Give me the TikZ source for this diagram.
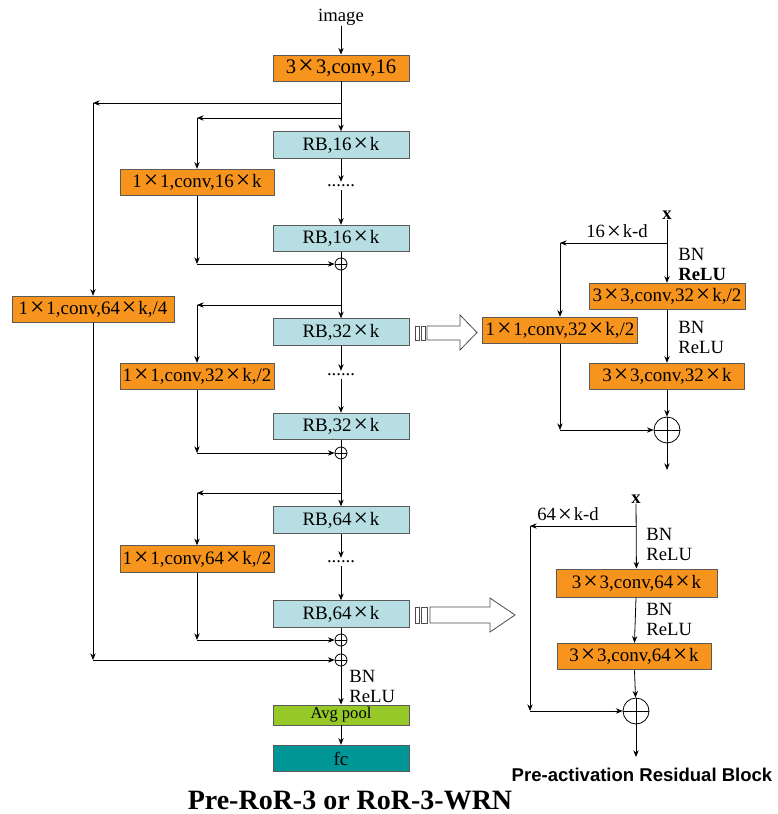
\documentclass[tikz,border=0pt]{standalone}
\usepackage{fontspec}
\setmainfont{Liberation Serif}
\newfontfamily\headsans{Liberation Sans}
\usetikzlibrary{arrows.meta}
\definecolor{convorange}{RGB}{247,148,30}
\definecolor{rbblue}{RGB}{183,222,226}
\definecolor{poolgreen}{RGB}{150,200,40}
\definecolor{fcteal}{RGB}{0,150,150}
\definecolor{boxline}{RGB}{90,90,90}
\newcommand\tms{\kern0.1em\raisebox{-0.06em}{\scalebox{1.35}{×}}\kern0.1em}
\tikzset{
  box/.style={draw=boxline, line width=0.6pt, minimum height=20pt, inner sep=0pt,
    font=\fontsize{14.25}{16}\selectfont},
  conv/.style={box, fill=convorange},
  rb/.style={box, fill=rbblue, minimum width=102pt},
  sumnode/.style={draw, circle, line width=0.6pt, inner sep=0pt, minimum size=#1,
    path picture={\draw (path picture bounding box.north) -- (path picture bounding box.south)
      (path picture bounding box.west) -- (path picture bounding box.east);}},
  lbl/.style={font=\fontsize{14}{15}\selectfont, align=left, inner sep=0pt},
  xlbl/.style={font=\fontsize{14}{15}\selectfont\bfseries, inner sep=0pt},
  dotsnode/.style={font=\fontsize{14}{15}\selectfont, inner sep=2pt},
  arr/.style={-{Stealth[length=5pt,width=4pt]}},
  hollow/.style={draw=black!70, line width=0.6pt, fill=white},
}
\begin{document}
\begin{tikzpicture}[x=0.75pt, y=-0.75pt, line width=0.6pt]
  \useasboundingbox (0,0) rectangle (778,814);
  % main column
  \node[lbl] (img) at (341,17) {image};
  \node[conv, minimum width=102pt, minimum height=19.5pt,
    font=\fontsize{15.5}{17}\selectfont] (conv0) at (341,68) {3\tms3,conv,16};
  \coordinate (j0) at (341,103);
  \coordinate (j1) at (341,118);
  \node[rb] (rb1a) at (341,145) {RB,16\tms k};
  \node[dotsnode] (dots1) at (341,186) {......};
  \node[rb] (rb1b) at (341,238.5) {RB,16\tms k};
  \node[sumnode=9pt] (sum1) at (341,264) {};
  \coordinate (j2) at (341,305);
  \node[rb] (rb2a) at (341,332) {RB,32\tms k};
  \node[dotsnode] (dots2) at (341,375) {......};
  \node[rb] (rb2b) at (341,426.5) {RB,32\tms k};
  \node[sumnode=9pt] (sum2) at (341,453) {};
  \coordinate (j3) at (341,493);
  \node[rb] (rb3a) at (341,520) {RB,64\tms k};
  \node[dotsnode] (dots3) at (341,562) {......};
  \node[rb] (rb3b) at (341,614) {RB,64\tms k};
  \node[sumnode=9pt] (sum3) at (341,640) {};
  \node[sumnode=9pt] (sum4) at (341,660) {};
  \node[lbl, anchor=west] (bnf) at (349,686) {BN\\ReLU};
  \node[box, fill=poolgreen, minimum width=102pt, minimum height=15pt,
    font=\fontsize{12.4}{14}\selectfont] (pool) at (341,715) {Avg pool};
  \node[box, fill=fcteal, minimum width=102pt] (fc) at (341,758.5) {fc};
  % projection shortcuts
  \node[conv, minimum width=121.5pt] (proj0) at (93,309.5) {1\tms1,conv,64\tms k,/4};
  \node[conv, minimum width=115.5pt] (proj1) at (197,182.5) {1\tms1,conv,16\tms k};
  \node[conv, minimum width=115.5pt] (proj2) at (197,376.5) {1\tms1,conv,32\tms k,/2};
  \node[conv, minimum width=115.5pt] (proj3) at (197,559) {1\tms1,conv,64\tms k,/2};

  \draw[arr] (img) -- (conv0);
  \draw[arr] (conv0) -- (rb1a);
  \draw[arr] (rb1a) -- (dots1);
  \draw[arr] (dots1) -- (rb1b);
  \draw (rb1b) -- (sum1);
  \draw[arr] (sum1) -- (rb2a);
  \draw[arr] (rb2a) -- (dots2);
  \draw[arr] (dots2) -- (rb2b);
  \draw (rb2b) -- (sum2);
  \draw[arr] (sum2) -- (rb3a);
  \draw[arr] (rb3a) -- (dots3);
  \draw[arr] (dots3) -- (rb3b);
  \draw (rb3b) -- (sum3);
  \draw (sum3) -- (sum4);
  \draw[arr] (sum4) -- (pool);
  \draw[arr] (pool) -- (fc);

  \draw[arr] (j0) -- (j0 -| proj0);
  \draw[arr] (j0 -| proj0) -- (proj0);
  \draw[arr] (proj0) -- (proj0 |- sum4);
  \draw[arr] (proj0 |- sum4) -- (sum4);
  \draw[arr] (j1) -- (j1 -| proj1);
  \draw[arr] (j1 -| proj1) -- (proj1);
  \draw[arr] (proj1) -- (proj1 |- sum1);
  \draw[arr] (proj1 |- sum1) -- (sum1);
  \draw[arr] (j2) -- (j2 -| proj2);
  \draw[arr] (j2 -| proj2) -- (proj2);
  \draw[arr] (proj2) -- (proj2 |- sum2);
  \draw[arr] (proj2 |- sum2) -- (sum2);
  \draw[arr] (j3) -- (j3 -| proj3);
  \draw[arr] (j3 -| proj3) -- (proj3);
  \draw[arr] (proj3) -- (proj3 |- sum3);
  \draw[arr] (proj3 |- sum3) -- (sum3);

  % residual block, 32 x k
  \node[xlbl] (xa) at (667,215) {x};
  \coordinate (ja) at (667,243);
  \node[lbl] (ad) at (617,232) {16\tms k-d};
  \node[lbl, anchor=west] (abn1) at (678,264) {BN\\\textbf{ReLU}};
  \node[conv, minimum width=117pt] (ac1) at (667,296.5) {3\tms3,conv,32\tms k,/2};
  \node[conv, minimum width=116pt] (aproj) at (560,330.5) {1\tms1,conv,32\tms k,/2};
  \node[lbl, anchor=west] (abn2) at (678,337) {BN\\ReLU};
  \node[conv, minimum width=116pt] (ac2) at (667,376.5) {3\tms3,conv,32\tms k};
  \node[sumnode=19.5pt] (asum) at (667,430) {};
  \coordinate (aout) at (667,470);
  \draw[arr] (xa) -- (ac1);
  \draw[arr] (ja) -- (ja -| aproj);
  \draw[arr] (ja -| aproj) -- (aproj);
  \draw[arr] (ac1) -- (ac2);
  \draw[arr] (ac2) -- (asum);
  \draw[arr] (aproj) -- (aproj |- asum);
  \draw[arr] (aproj |- asum) -- (asum);
  \draw[arr] (asum) -- (aout);

  % residual block, 64 x k
  \node[xlbl] (xb) at (636,499) {x};
  \coordinate (jb) at (636,526);
  \coordinate (bside) at (530,526);
  \node[lbl] (bd) at (568,515) {64\tms k-d};
  \node[lbl, anchor=west] (bbn1) at (646,544.5) {BN\\ReLU};
  \node[conv, minimum width=120.75pt, minimum height=21pt] (bc1) at (636.5,583) {3\tms3,conv,64\tms k};
  \node[lbl, anchor=west] (bbn2) at (646,619) {BN\\ReLU};
  \node[conv, minimum width=115.5pt] (bc2) at (634,656.5) {3\tms3,conv,64\tms k};
  \node[sumnode=19.5pt] (bsum) at (636,711) {};
  \coordinate (bout) at (636,757);
  \draw[arr] (xb) -- (bc1);
  \draw[arr] (jb) -- (bside);
  \draw[arr] (bside) -- (bside |- bsum);
  \draw[arr] (bside |- bsum) -- (bsum);
  \draw[arr] (bc1) -- (bc2);
  \draw[arr] (bc2) -- (bsum);
  \draw[arr] (bsum) -- (bout);

  % hollow arrows
  \draw[hollow] (415,326) rectangle (419,340);
  \draw[hollow] (421,326) rectangle (425,340);
  \draw[hollow] (427,326) -- (460,326) -- (460,315) -- (477,332.5) -- (460,350) -- (460,340) -- (427,340) -- cycle;
  \draw[hollow] (415,607) rectangle (419,623);
  \draw[hollow] (421,607) rectangle (427,623);
  \draw[hollow] (430,607) -- (490,607) -- (490,598) -- (515,615) -- (490,632) -- (490,623) -- (430,623) -- cycle;

  % titles
  \node[font=\fontsize{21}{24}\selectfont\bfseries] (title) at (350,800) {Pre-RoR-3 or RoR-3-WRN};
  \node[font=\headsans\bfseries\fontsize{13.9}{15}\selectfont] (subtitle) at (642,775) {Pre-activation Residual Block};
\end{tikzpicture}
\end{document}
